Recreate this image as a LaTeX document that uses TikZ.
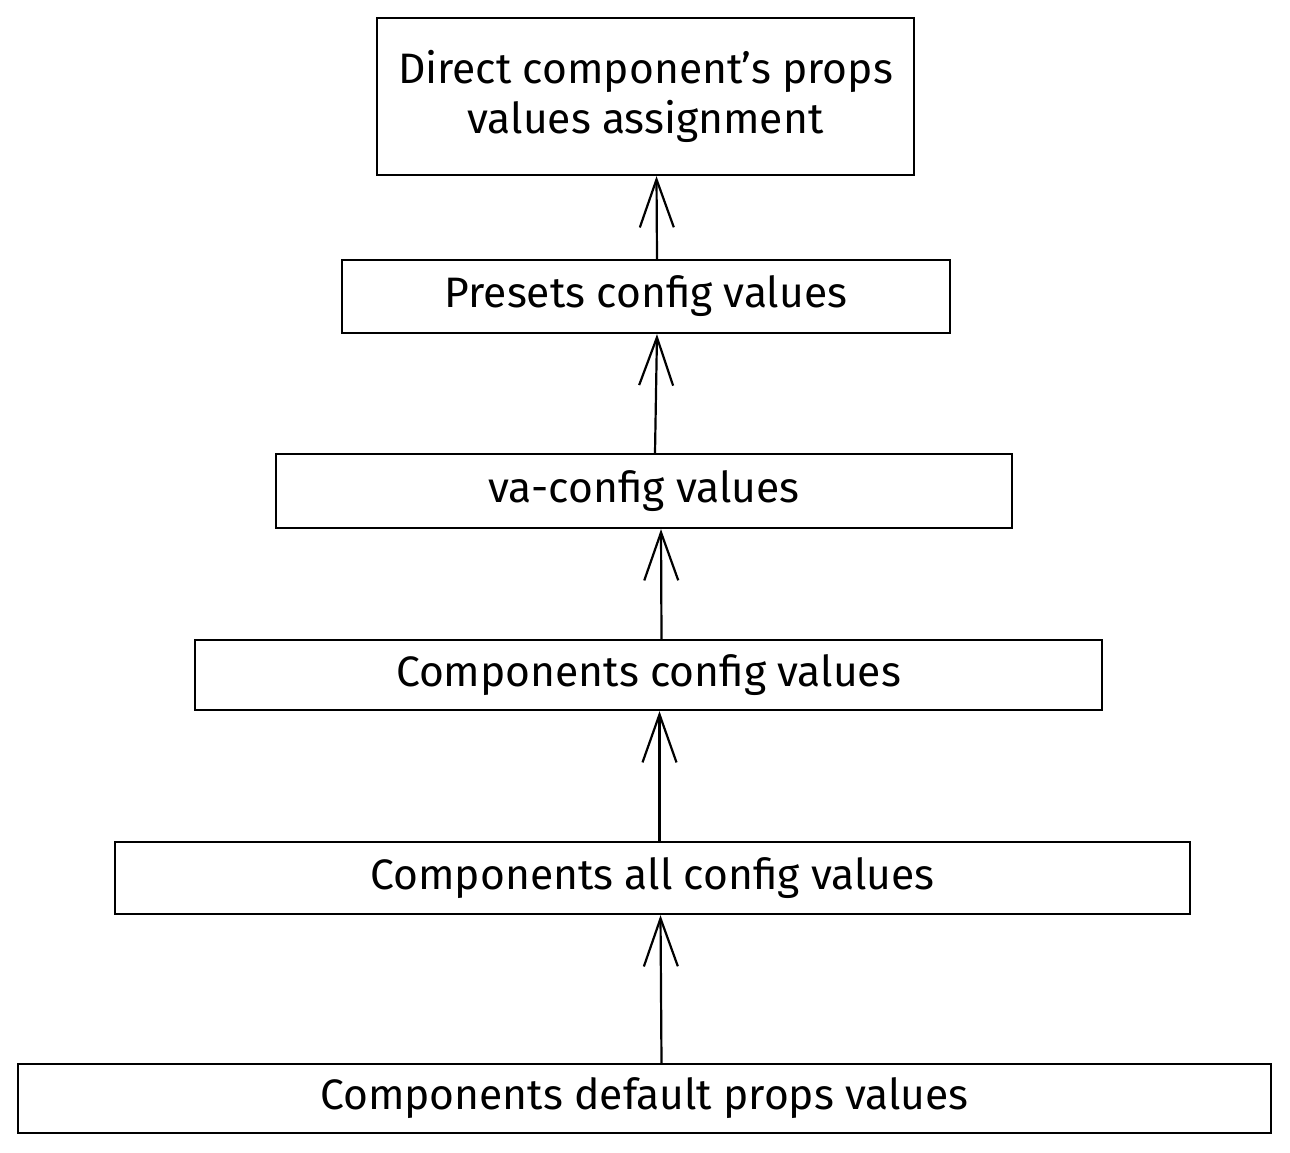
\documentclass[tikz,border=0pt]{standalone}
\usepackage{fontspec}
\setmainfont{Fira Sans}
\usetikzlibrary{arrows.meta}

\tikzset{
  layer/.style={draw,line width=1.1pt,inner sep=0pt,align=center,
    font=\fontsize{21.3}{25}\selectfont},
  arr/.style={line width=1.1pt,-{Straight Barb[length=24pt,width=17pt,line width=1.1pt]}}
}

\begin{document}
\begin{tikzpicture}[x=0.5pt,y=-0.5pt]
        \useasboundingbox (0,0) rectangle (1290,1152);

        \node[layer,minimum width=268.5pt,minimum height=78.5pt] (direct) at (645.5,96.5)
          {Direct component's props\\values assignment};
        \node[layer,minimum width=304pt,minimum height=36.5pt] (presets) at (646,296.5)
          {Presets config values};
        \node[layer,minimum width=368pt,minimum height=37pt] (vaconf) at (644,491)
          {va-config values};
        \node[layer,minimum width=453.5pt,minimum height=35pt] (compconf) at (648.5,675)
          {Components config values};
        \node[layer,minimum width=537.5pt,minimum height=36pt] (allconf) at (652.5,878)
          {Components all config values};
        \node[layer,minimum width=626.5pt,minimum height=34.5pt] (defaults) at (644.5,1098.5)
          {Components default props values};

        % arrows, bottom to top
        \draw[arr] ([xshift=5.5pt]presets.north) -- ([xshift=5.5pt]direct.south);
        \draw[arr] ([xshift=5.5pt]vaconf.north) -- ([xshift=5.5pt]presets.south);
        \draw[arr] ([xshift=6.5pt]compconf.north) -- ([xshift=8.5pt]vaconf.south);
        \draw[arr] ([xshift=3.5pt]allconf.north) -- ([xshift=5.5pt]compconf.south);
        \draw[arr] ([xshift=8.5pt]defaults.north) -- ([xshift=4pt]allconf.south);
      \end{tikzpicture}
\end{document}
